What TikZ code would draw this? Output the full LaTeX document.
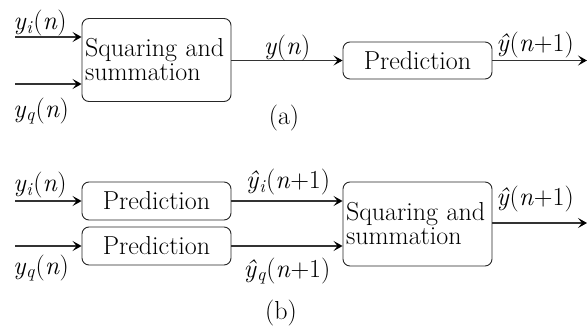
\documentclass[tikz,border=0pt]{standalone}
\usepackage{fontspec}
\usetikzlibrary{arrows.meta}
\begin{document}
\begin{tikzpicture}[x=1pt,y=-1pt,
  font=\rmfamily\fontsize{26}{27}\selectfont,
  blk/.style={draw=black!85, line width=0.9pt, rounded corners=7pt, inner sep=0pt, minimum width=149pt},
  sqbox/.style={blk, minimum height=83pt, text width=143pt, inner xsep=3pt, align=left},
  predbox/.style={blk, minimum height=37pt, align=center},
  arr/.style={draw=black!80, line width=1.1pt, -{Stealth[length=9pt,width=10pt,inset=4pt,black]}},
  lbl/.style={inner sep=0pt}]
\useasboundingbox (0,0) rectangle (587,329);
% (a)
\node[sqbox] (sqa) at (156.5,60) {Squaring and\\[-3pt]summation};
\node[predbox] (pra) at (417.5,60.5) {Prediction};
\coordinate (ia1) at (15,37);
\coordinate (ia2) at (15,84);
\coordinate (oa) at (587,60.5);
\draw[arr] (ia1) -- (ia1 -| sqa.west);
\draw[arr] (ia2) -- (ia2 -| sqa.west);
\draw[arr] (sqa.east |- pra.west) -- (pra.west);
\draw[arr] (pra.east) -- (oa);
\node[lbl] (lyia) at (40,23) {\textit{y}\textsubscript{\textit{i}}(\textit{n})};
\node[lbl] (lyqa) at (41,111) {\textit{y}\textsubscript{\textit{q}}(\textit{n})};
\node[lbl] (lya) at (287,48) {\textit{y}(\textit{n})};
\node[lbl] (lyha) at (535,45) {\textit{ŷ}(\textit{n}+1)};
\node[lbl] (capa) at (284,118) {(a)};
% (b)
\node[predbox, minimum height=38pt] (pr1) at (156.5,201) {Prediction};
\node[predbox, minimum height=38pt] (pr2) at (156.5,246) {Prediction};
\node[sqbox, minimum height=84pt] (sqb) at (417.5,224) {Squaring and\\[-3pt]summation};
\coordinate (ib1) at (15,201);
\coordinate (ib2) at (15,246);
\coordinate (ob) at (587,223);
\draw[arr] (ib1) -- (pr1.west);
\draw[arr] (ib2) -- (pr2.west);
\draw[arr] (pr1.east) -- (pr1.east -| sqb.west);
\draw[arr] (pr2.east) -- (pr2.east -| sqb.west);
\draw[arr] (sqb.east |- ob) -- (ob);
\node[lbl] (lyib) at (40,185) {\textit{y}\textsubscript{\textit{i}}(\textit{n})};
\node[lbl] (lyqb) at (41,268) {\textit{y}\textsubscript{\textit{q}}(\textit{n})};
\node[lbl] (lyhi) at (288,182) {\textit{ŷ}\textsubscript{\textit{i}}(\textit{n}+1)};
\node[lbl] (lyhq) at (287,271) {\textit{ŷ}\textsubscript{\textit{q}}(\textit{n}+1)};
\node[lbl] (lyhb) at (535,199) {\textit{ŷ}(\textit{n}+1)};
\node[lbl] (capb) at (281,313) {(b)};
\end{tikzpicture}
\end{document}
